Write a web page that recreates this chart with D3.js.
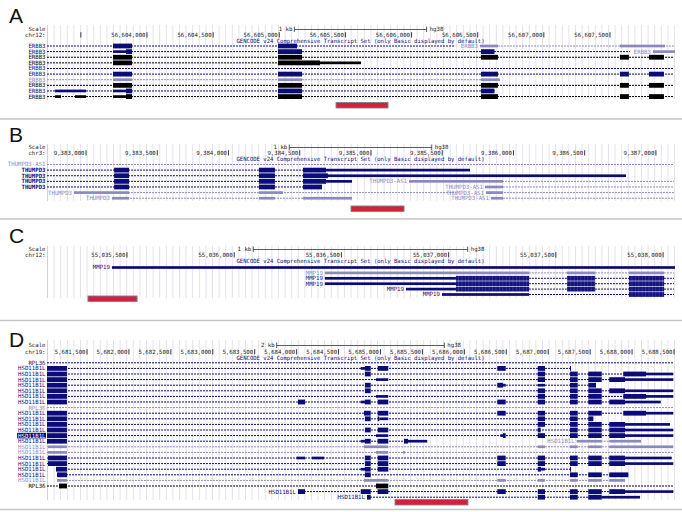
<!DOCTYPE html>
<html><head><meta charset="utf-8">
<script src="https://cdn.jsdelivr.net/npm/d3@7"></script>
<style>
body{margin:0;background:#fff}
svg{display:block}
text.sm{font-family:"DejaVu Sans Mono","Liberation Mono",monospace;font-size:5.7px}
text.big{font-family:"Liberation Sans",Arial,sans-serif;font-size:21px}
</style>
</head><body>
<svg id="c" width="682" height="512"></svg>
<script>
// ---------------- DATA ----------------
const panelLetters = ["A", "B", "C", "D"];
const chromLabels = ["chr12:", "chr3:", "chr12:", "chr19:"];
const viewDomains = [[56603244, 56607984], [9382726, 9387127], [55035127, 55038051], [5681023, 5688500]];
const tickValuesA = [56603500, 56604000, 56604500, 56605000, 56605500, 56606000, 56606500, 56607000, 56607500];
const tickValuesB = [9383000, 9383500, 9384000, 9384500, 9385000, 9385500, 9386000, 9386500, 9387000];
const tickValuesC = [55035500, 55036000, 55036500, 55037000, 55037500, 55038000];
const tickValuesD = [5681500, 5682000, 5682500, 5683000, 5683500, 5684000, 5684500, 5685000, 5685500, 5686000, 5686500, 5687000, 5687500, 5688000, 5688500];
const scaleBarBp = [1000, 1000, 1000, 2000];
const scaleBarText = ["1 kb", "1 kb", "1 kb", "2 kb"];
const assembly = "hg38";
const trackTitle = "GENCODE v24 Comprehensive Transcript Set (only Basic displayed by default)";
const regionBars = [[56605429, 56605822], [9384860, 9385232], [55035318, 55035547], [5685173, 5686043]];

// transcripts: rows of {name, c (n navy / l light / k black), s, e, ex:[[start,end,thick]]}
const ERBB3_full = [[56603743,56603887,1],[56604990,56605172,1],[56606525,56606653,1],[56607575,56607643,1],[56607795,56607908,1]];
const rowsA = [
  [{name:"ERBB3",c:"n",s:56603000,e:56606330,ex:[[56603743,56603887,1],[56604990,56605134,1]]},
   {name:"ERBB3",c:"l",s:56606517,e:56608300,ex:[[56606517,56606653,0],[56607575,56607916,0]]}],
  [{name:"ERBB3",c:"n",s:56603000,e:56607651,ex:[[56603743,56603841,0],[56603841,56603887,1],[56604990,56605172,1],[56606525,56606627,1]]},
   {name:"ERBB3",c:"l",s:56607825,e:56608300,ex:[[56607825,56608300,0]]}],
  [{name:"ERBB3",c:"k",s:56603000,e:56608300,ex:ERBB3_full}],
  [{name:"ERBB3",c:"k",s:56603000,e:56605618,ex:[[56603743,56603887,1],[56604990,56605308,1],[56605308,56605618,0]]}],
  [{name:"ERBB3",c:"n",s:56603000,e:56608300,ex:[]}],
  [{name:"ERBB3",c:"n",s:56603000,e:56608300,ex:ERBB3_full}],
  [{name:"ERBB3",c:"l",s:56603000,e:56606668,ex:[[56603743,56603887,0],[56604990,56605172,0],[56606525,56606668,0]]}],
  [{name:"ERBB3",c:"k",s:56603000,e:56608300,ex:ERBB3_full}],
  [{name:"ERBB3",c:"n",s:56603000,e:56606627,ex:[[56603305,56603539,0],[56603743,56603841,0],[56603841,56603887,1],[56604990,56605172,1],[56606525,56606627,1]]}],
  [{name:"ERBB3",c:"k",s:56603000,e:56608300,ex:[[56603305,56603350,0],[56603456,56603539,0],[56603743,56603841,0],[56603841,56603887,1],[56604990,56605172,1],[56606525,56606653,1],[56607575,56607643,1],[56607795,56607908,1]]}]
];
const rowsB = [
  [{name:"THUMPD3-AS1",c:"l",s:9382000,e:9388000,ex:[]}],
  [{name:"THUMPD3",c:"n",s:9382000,e:9385695,ex:[[9383197,9383302,1],[9384214,9384326,1],[9384523,9384684,1],[9384684,9385695,0]]}],
  [{name:"THUMPD3",c:"n",s:9382000,e:9386790,ex:[[9383197,9383302,1],[9384214,9384326,1],[9384523,9384698,1],[9384698,9386790,0]]}],
  [{name:"THUMPD3",c:"n",s:9382000,e:9384867,ex:[[9383197,9383302,1],[9384214,9384326,1],[9384523,9384684,1],[9384684,9384867,0]]},
   {name:"THUMPD3-AS1",c:"l",s:9385267,e:9388000,ex:[[9385267,9385927,0]]}],
  [{name:"THUMPD3",c:"n",s:9382000,e:9384656,ex:[[9383197,9383302,1],[9384214,9384326,1],[9384523,9384656,1]]},
   {name:"THUMPD3-AS1",c:"l",s:9385800,e:9388000,ex:[[9385800,9385927,0]]}],
  [{name:"THUMPD3",c:"l",s:9382916,e:9385600,ex:[[9382916,9383302,0],[9384214,9384383,0]]},
   {name:"THUMPD3-AS1",c:"l",s:9385807,e:9388000,ex:[[9385807,9385927,0]]}],
  [{name:"THUMPD3",c:"l",s:9383182,e:9384867,ex:[[9383182,9383302,0],[9384214,9384326,0],[9384523,9384867,0]]},
   {name:"THUMPD3-AS1",c:"l",s:9385842,e:9388000,ex:[[9385842,9385927,0]]}]
];
const rowsC = [
  [{name:"MMP19",c:"n",s:55035430,e:55038200,ex:[[55035430,55038200,0]]}],
  [{name:"MMP19",c:"l",s:55036423,e:55038200,ex:[[55036423,55037375,0],[55037552,55037683,0],[55037841,55038005,0]]}],
  [{name:"MMP19",c:"n",s:55036423,e:55038200,ex:[[55036423,55037034,0],[55037034,55037375,1],[55037552,55037683,1],[55037841,55038005,1]]}],
  [{name:"MMP19",c:"n",s:55036423,e:55038200,ex:[[55036423,55037034,0],[55037034,55037375,1],[55037552,55037683,1],[55037841,55038005,1]]}],
  [{name:"MMP19",c:"n",s:55036801,e:55038200,ex:[[55036801,55037034,0],[55037034,55037375,1],[55037552,55037683,1],[55037841,55038005,1]]}],
  [{name:"MMP19",c:"n",s:55036969,e:55038200,ex:[[55036969,55037375,0],[55037841,55038005,1]]}]
];
const rowsD = [
  [{name:"RPL36",c:"n",s:5680000,e:5689000,ex:[]}],
  [{name:"HSD11B1L",c:"n",s:5680000,e:5687272,ex:[[5680900,5681261,1],[5684764,5684815,0],[5684815,5684883,1],[5684967,5685093,1],[5686393,5686493,1],[5686875,5686962,1],[5687260,5687272,1]]}],
  [{name:"HSD11B1L",c:"n",s:5680000,e:5688492,ex:[[5680900,5681261,1],[5684815,5684883,1],[5686875,5686962,1],[5687260,5687352,1],[5687478,5687638,1],[5687895,5688166,1],[5688166,5688492,0]]}],
  [{name:"HSD11B1L",c:"n",s:5680000,e:5688492,ex:[[5680900,5681261,1],[5684946,5685093,0],[5686875,5686962,1],[5687260,5687352,1],[5687478,5687638,1],[5687728,5687916,1],[5687916,5688492,0]]}],
  [{name:"HSD11B1L",c:"n",s:5680000,e:5687570,ex:[[5680900,5681261,1],[5684815,5684883,1],[5686393,5686461,1],[5686461,5686493,0],[5686875,5686962,0],[5687260,5687352,1],[5687478,5687570,1]]}],
  [{name:"HSD11B1L",c:"n",s:5680000,e:5688492,ex:[[5680900,5681261,1],[5684815,5684883,1],[5686875,5686962,1],[5687260,5687352,1],[5687478,5687638,1],[5687728,5687916,1],[5687916,5688492,0]]}],
  [{name:"HSD11B1L",c:"n",s:5680000,e:5688492,ex:[[5680900,5681261,1],[5684946,5685093,0],[5686875,5686962,1],[5687260,5687352,1],[5687478,5687638,1],[5687895,5688166,1],[5688166,5688492,0]]}],
  [{name:"HSD11B1L",c:"n",s:5680000,e:5688341,ex:[[5680900,5681261,1],[5684016,5684100,1],[5684764,5684815,0],[5684815,5684883,1],[5684967,5685093,1],[5686393,5686493,1],[5686875,5686962,1],[5687260,5687352,1],[5687478,5687638,1],[5687728,5687916,1],[5687916,5688341,0]]}],
  [{name:"RPL36",c:"l",s:5680000,e:5689000,ex:[]}],
  [{name:"HSD11B1L",c:"n",s:5680000,e:5688492,ex:[[5680900,5681261,1],[5684803,5684883,1],[5684967,5685093,1],[5686393,5686493,1],[5686875,5686962,1],[5687260,5687352,1],[5687478,5687638,1],[5687895,5688166,1],[5688166,5688492,0]]}],
  [{name:"HSD11B1L",c:"n",s:5680000,e:5687538,ex:[[5680900,5681261,1],[5684815,5684883,1],[5684967,5684985,1],[5684985,5685093,0],[5686875,5686962,1],[5687260,5687352,1],[5687478,5687538,1]]}],
  [{name:"HSD11B1L",c:"n",s:5680000,e:5688452,ex:[[5680900,5681261,1],[5686875,5686962,1],[5687260,5687352,1],[5687478,5687638,1],[5687728,5687916,1],[5687916,5688452,0]]}],
  [{name:"HSD11B1L",c:"n",s:5680000,e:5688492,ex:[[5680900,5681261,1],[5684815,5684883,1],[5684967,5685093,1],[5686875,5686910,1],[5687260,5687352,1],[5687478,5687638,1],[5687728,5687916,1],[5687916,5688492,0]]}],
  [{name:"HSD11B1L",c:"n",hl:true,s:5680000,e:5688492,ex:[[5680900,5681261,1],[5684946,5685093,0],[5686430,5686461,0],[5686461,5686493,1],[5686875,5686962,1],[5687260,5687352,1],[5687478,5687638,1],[5687728,5687916,1],[5687916,5688492,0]]}],
  [{name:"HSD11B1L",c:"n",s:5680000,e:5685558,ex:[[5680900,5681261,1],[5684764,5684815,0],[5684815,5684883,1],[5684967,5685093,1],[5685280,5685328,1],[5685328,5685558,0]]},
   {name:"HSD11B1L",c:"l",s:5687340,e:5688107,ex:[[5687340,5687638,0],[5687728,5688107,0]]}],
  [{name:"HSD11B1L",c:"l",s:5680000,e:5688492,ex:[[5681035,5681261,0],[5684803,5685093,0],[5686875,5686962,0],[5687260,5687352,0],[5687478,5687638,0],[5687728,5688492,0]]}],
  [{name:"HSD11B1L",c:"l",s:5680000,e:5689000,ex:[[5681035,5681261,0],[5684946,5685093,0],[5685270,5685290,0]]}],
  [{name:"HSD11B1L",c:"n",s:5680000,e:5688472,ex:[[5681035,5681261,1],[5683998,5684100,0],[5684183,5684326,0],[5684815,5684883,1],[5684967,5685093,1],[5686393,5686493,1],[5686875,5686962,1],[5687260,5687352,1],[5687478,5687638,1],[5687728,5687916,1],[5687916,5688472,0]]}],
  [{name:"HSD11B1L",c:"n",s:5680000,e:5688492,ex:[[5681035,5681261,1],[5684815,5684883,1],[5684967,5685093,1],[5686393,5686493,1],[5686875,5686962,1],[5687260,5687352,1],[5687478,5687638,1],[5687728,5687916,1],[5687916,5688492,0]]}],
  [{name:"HSD11B1L",c:"n",s:5681130,e:5687272,ex:[[5681130,5681261,1],[5684764,5684815,0],[5684815,5684883,1],[5684967,5685093,1],[5686875,5686915,1],[5686915,5686962,0],[5687260,5687272,1]]}],
  [{name:"HSD11B1L",c:"n",s:5681142,e:5687955,ex:[[5681142,5681261,1],[5684815,5684883,1],[5687260,5687352,1],[5687478,5687638,1],[5687728,5687955,1]]}],
  [{name:"HSD11B1L",c:"l",s:5681142,e:5687916,ex:[[5681142,5681261,0],[5684803,5685093,0],[5686393,5686493,0],[5686875,5686962,0],[5687260,5687352,0],[5687478,5687638,0],[5687728,5687916,0]]}],
  [{name:"RPL36",c:"k",s:5680000,e:5689000,ex:[[5681166,5681261,1],[5684946,5685093,1]]}],
  [{name:"HSD11B1L",c:"n",s:5684016,e:5688492,ex:[[5684016,5684100,1],[5684764,5684883,1],[5684967,5685093,1],[5686393,5686493,1],[5686875,5686962,1],[5687260,5687352,1],[5687478,5687638,1],[5687728,5687916,1],[5687916,5688492,0]]}],
  [{name:"HSD11B1L",c:"n",s:5684839,e:5688095,ex:[[5684839,5684883,1],[5686875,5686962,1],[5687260,5687352,1],[5687478,5687638,1],[5687638,5688095,0]]}]
];
const allTicks = [tickValuesA, tickValuesB, tickValuesC, tickValuesD];
const allRows = [rowsA, rowsB, rowsC, rowsD];

// ---------------- LAYOUT / STYLE ----------------
const X0 = 47, X1 = 674, LABEL_X = 45.5, CH = 3.42;
const colors = {n: "#0c0c78", l: "#8a8abf", k: "#000000"};
const layout = [
  {letterY: 23, scaleY: 29, chrY: 35, titleY: 41, row0: 45.5, rowH: 5.62, gridTop: 25, gridBot: 100, redY: 102.5},
  {letterY: 142, scaleY: 147, chrY: 153, titleY: 159, row0: 164, rowH: 5.62, gridTop: 144, gridBot: 201, redY: 206},
  {letterY: 243, scaleY: 249, chrY: 255, titleY: 261.5, row0: 267, rowH: 5.4, gridTop: 246, gridBot: 298, redY: 296},
  {letterY: 347, scaleY: 345, chrY: 352, titleY: 358, row0: 362.3, rowH: 5.6, gridTop: 340, gridBot: 500, redY: 499.5}
];
const separators = [119, 219, 320.5, 509.5];
const THICK_H = 4.8, THIN_H = 2.7;

const svg = d3.select("#c");
svg.append("rect").attr("width", 682).attr("height", 512).attr("fill", "#fff");
const defs = svg.append("defs");
const pat = defs.append("pattern").attr("id", "codon").attr("patternUnits", "userSpaceOnUse")
  .attr("width", 3.4).attr("height", 10);
pat.append("rect").attr("width", 3.4).attr("height", 10).attr("fill", "#14147e");
pat.append("rect").attr("x", 2.6).attr("width", 0.5).attr("height", 10).attr("fill", "#4848a0");
defs.append("clipPath").attr("id", "plotclip").append("rect")
  .attr("x", X0).attr("y", 0).attr("width", X1 - X0 + 1).attr("height", 512);

separators.forEach(y => svg.append("line").attr("x1", 0).attr("x2", 682).attr("y1", y).attr("y2", y)
  .attr("stroke", "#c6c6c6").attr("stroke-width", 1.5));

const fmt = d3.format(",");

panelLetters.forEach((letter, i) => {
  const L = layout[i];
  const sc = d3.scaleLinear().domain(viewDomains[i]).range([X0, X1]);
  const g = svg.append("g");

  // guidelines
  d3.range(X0, X1 + 0.5, 6.6).forEach((gx, k) => {
    g.append("line").attr("x1", gx + 0.5).attr("x2", gx + 0.5).attr("y1", L.gridTop).attr("y2", L.gridBot)
      .attr("stroke", k === 0 ? "#efc6cc" : "#e6e2ec").attr("stroke-width", 1);
  });

  // panel letter
  g.append("text").attr("class", "big").attr("x", 9).attr("y", L.letterY).text(letter).attr("fill", "#111");

  // Scale row
  g.append("text").attr("class", "sm").attr("x", LABEL_X).attr("y", L.scaleY).attr("dy", "0.35em")
    .attr("text-anchor", "end").attr("fill", "#222").text("Scale");
  const mid = (viewDomains[i][0] + viewDomains[i][1]) / 2;
  const b0 = sc(mid - scaleBarBp[i] / 2), b1 = sc(mid + scaleBarBp[i] / 2);
  g.append("line").attr("x1", b0).attr("x2", b1).attr("y1", L.scaleY + 0.5).attr("y2", L.scaleY + 0.5).attr("stroke", "#333").attr("stroke-width", 0.8);
  [b0, b1].forEach(bx => g.append("line").attr("x1", bx).attr("x2", bx).attr("y1", L.scaleY - 2.5).attr("y2", L.scaleY + 3).attr("stroke", "#333").attr("stroke-width", 0.8));
  g.append("text").attr("class", "sm").attr("x", b0 - 2).attr("y", L.scaleY).attr("dy", "0.35em")
    .attr("text-anchor", "end").attr("fill", "#222").text(scaleBarText[i]);
  g.append("text").attr("class", "sm").attr("x", b1 + 3).attr("y", L.scaleY).attr("dy", "0.35em")
    .attr("fill", "#222").text(assembly);

  // chrom row + ticks
  g.append("text").attr("class", "sm").attr("x", LABEL_X).attr("y", L.chrY).attr("dy", "0.35em")
    .attr("text-anchor", "end").attr("fill", "#222").text(chromLabels[i]);
  allTicks[i].forEach(t => {
    const tx = sc(t);
    g.append("line").attr("x1", tx).attr("x2", tx).attr("y1", L.chrY - 2.8).attr("y2", L.chrY + 2.5).attr("stroke", "#222").attr("stroke-width", 0.9);
    const lbl = fmt(t);
    if (tx - 1.5 - lbl.length * CH >= 47) {
      g.append("text").attr("class", "sm").attr("x", tx - 1.5).attr("y", L.chrY).attr("dy", "0.35em")
        .attr("text-anchor", "end").attr("fill", "#222").text(lbl);
    }
  });

  // track title
  g.append("text").attr("class", "sm").attr("x", (X0 + X1) / 2).attr("y", L.titleY).attr("dy", "0.35em")
    .attr("text-anchor", "middle").attr("fill", colors.n)
    .attr("textLength", 248).attr("lengthAdjust", "spacingAndGlyphs").text(trackTitle);

  // transcripts
  const tg = g.append("g");
  const cg = tg.append("g").attr("clip-path", "url(#plotclip)");
  allRows[i].forEach((row, ri) => {
    const y = L.row0 + ri * L.rowH;
    row.forEach(tr => {
      const color = colors[tr.c];
      const xs = Math.max(sc(tr.s), X0), xe = Math.min(sc(tr.e), X1);
      cg.append("line").attr("x1", xs).attr("x2", xe).attr("y1", y + 0.5).attr("y2", y + 0.5)
        .attr("stroke", color).attr("stroke-width", 1).attr("stroke-dasharray", "2,1");
      tr.ex.forEach(([a, b, thick]) => {
        const h = thick ? THICK_H : THIN_H;
        const xa = sc(a), xb = sc(b);
        cg.append("rect").attr("x", xa).attr("y", y + 0.5 - h / 2).attr("width", Math.max(xb - xa, 1)).attr("height", h)
          .attr("fill", (i === 2 && thick) ? "url(#codon)" : color);
      });
      // label
      const w = tr.name.length * CH;
      let lx = sc(tr.s) - 2;
      if (lx - w < 46) lx = LABEL_X;
      if (tr.hl) {
        tg.append("rect").attr("x", lx - w - 1).attr("y", y - 2.3).attr("width", w + 1.5).attr("height", 5.6).attr("fill", colors.n);
      }
      tg.append("text").attr("class", "sm").attr("x", lx).attr("y", y + 0.5).attr("dy", "0.35em")
        .attr("text-anchor", "end").attr("fill", tr.hl ? "#fff" : color)
        .attr("font-weight", (i === 1 && tr.c === "n") ? "bold" : null).text(tr.name);
    });
  });

  // region of interest bar
  g.append("rect").attr("x", sc(regionBars[i][0])).attr("y", L.redY)
    .attr("width", sc(regionBars[i][1]) - sc(regionBars[i][0])).attr("height", 5.5)
    .attr("fill", "#d0233a").attr("stroke", "#7d8090").attr("stroke-width", 0.9);
});
</script>
</body></html>
